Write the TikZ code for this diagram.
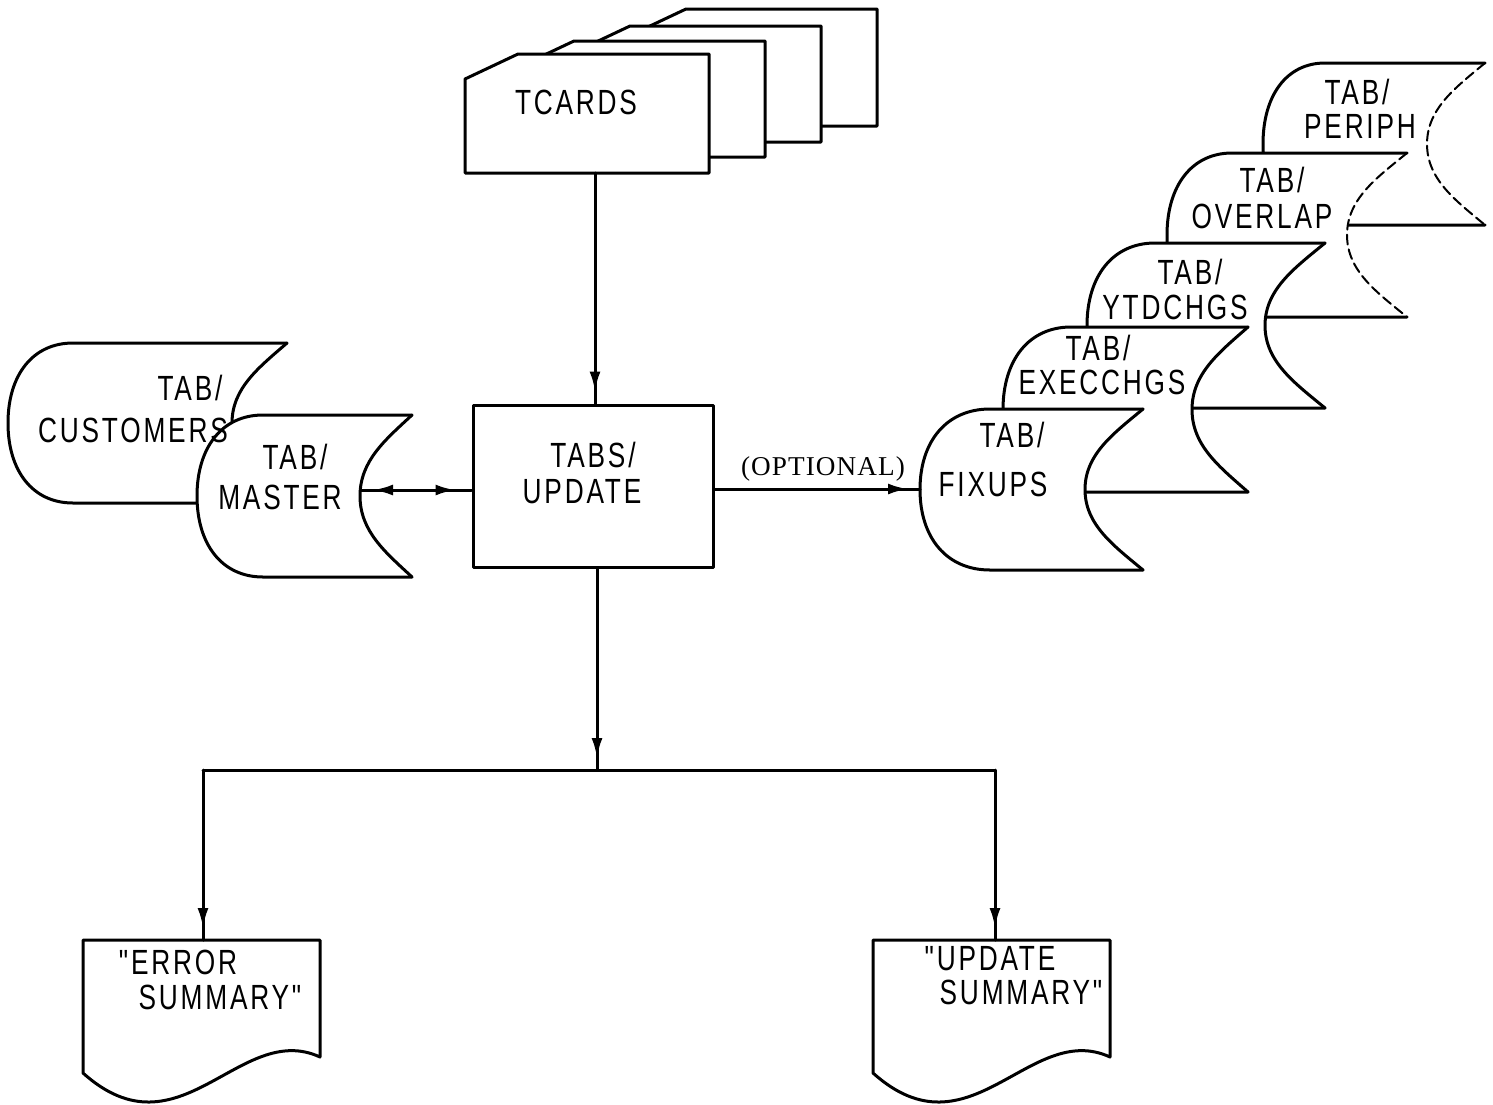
\documentclass[tikz,border=0pt]{standalone}
\usepackage{fontspec}
\usetikzlibrary{arrows.meta,decorations.markings}
\newfontfamily\lett[FakeStretch=0.75,LetterSpace=8]{Liberation Sans}
\newfontfamily\optfont[LetterSpace=4]{Liberation Serif}
\tikzset{
  ln/.style={line width=1.5pt, line join=round, line cap=round},
  lbl/.style={inner sep=0pt, font=\lett\fontsize{17.5}{20}\selectfont},
  optl/.style={inner sep=0pt, font=\optfont\fontsize{13.6}{16}\selectfont},
  procbox/.style={ln, draw, fill=white, minimum width=120pt, minimum height=81pt, inner sep=0pt},
  flow/.style={ln, postaction={decorate}, decoration={markings,
      mark=at position -6pt with {\arrow{Latex[length=10pt,width=5.5pt]}}}},
  dflow/.style={ln, postaction={decorate}, decoration={markings,
      mark=at position 6pt with {\arrowreversed{Latex[length=10pt,width=5.5pt]}},
      mark=at position -8pt with {\arrow{Latex[length=10pt,width=5.5pt]}}}},
  faint/.style={dash pattern=on 5pt off 2.5pt, line width=1pt},
}
% storage symbol: #1 left x, #2 top y, #3 width to corner, #4 height, #5 bulge radius, #6 concave depth, #7 concave style
\newcommand\drawstore[7]{%
\begin{scope}[shift={(#1,#2)}]
\fill[white] (#5,0) -- (#3,0) .. controls ({#3-0.5*#6},{0.15*#4}) and ({#3-#6},{0.28*#4}) .. ({#3-#6},{0.5*#4})
  .. controls ({#3-#6},{0.72*#4}) and ({#3-0.5*#6},{0.85*#4}) .. (#3,#4) -- (#5,#4)
  .. controls ({0.38*#5},#4) and (0,{0.8*#4}) .. (0,{0.5*#4})
  .. controls (0,{0.2*#4}) and ({0.38*#5},0) .. (#5,0) -- cycle;
\draw[ln] (#3,#4) -- (#5,#4) .. controls ({0.38*#5},#4) and (0,{0.8*#4}) .. (0,{0.5*#4})
  .. controls (0,{0.2*#4}) and ({0.38*#5},0) .. (#5,0) -- (#3,0);
\draw[ln,#7] (#3,0) .. controls ({#3-0.5*#6},{0.15*#4}) and ({#3-#6},{0.28*#4}) .. ({#3-#6},{0.5*#4})
  .. controls ({#3-#6},{0.72*#4}) and ({#3-0.5*#6},{0.85*#4}) .. (#3,#4);
\end{scope}}
% document symbol: #1 left x, #2 top y
\newcommand\drawdoc[2]{%
\begin{scope}[shift={(#1,#2)}]
\filldraw[ln,fill=white] (0,0) -- (237,0) -- (237,117) .. controls (157,80) and (97,220) .. (0,133) -- cycle;
\end{scope}}

\begin{document}
\begin{tikzpicture}[x=0.5pt,y=-0.5pt]
\fill[white] (0,0) rectangle (1493,1104);
\useasboundingbox (0,0) rectangle (1493,1104);

% ---- TCARDS deck ----
\filldraw[ln,fill=white] (633,34) -- (686,9) -- (877,9) -- (877,126) -- (633,126) -- cycle;
\filldraw[ln,fill=white] (577,51) -- (630,26) -- (821,26) -- (821,142) -- (577,142) -- cycle;
\filldraw[ln,fill=white] (521,66) -- (574,41) -- (765,41) -- (765,157) -- (521,157) -- cycle;
\filldraw[ln,fill=white] (465,79) -- (518,54) -- (709,54) -- (709,173) -- (465,173) -- cycle;
\node[lbl] (tcards) at (576,102) {TCARDS};

% ---- process box ----
\node[procbox] (update) at (593,486) {};
\node[lbl] (tu1) at (593,455) {TABS/};
\node[lbl] (tu2) at (582,492) {UPDATE};

% ---- left storage ----
\drawstore{8}{343}{279}{160}{65}{55}{solid}
\drawstore{197}{415}{215}{162}{66}{52}{solid}
\node[lbl] (cust1) at (190,388) {TAB/};
\node[lbl] (cust2) at (133,430) {CUSTOMERS};
\node[lbl] (mast1) at (295,457) {TAB/};
\node[lbl] (mast2) at (280,497) {MASTER};

% ---- right storage stack ----
\drawstore{1263}{63}{222}{162}{62}{58}{faint}
\node[lbl] (per1) at (1357,92) {TAB/};
\node[lbl] (per2) at (1360,126) {PERIPH};
\drawstore{1167}{153}{240}{164}{65}{60}{faint}
\node[lbl] (ovl1) at (1272,180) {TAB/};
\node[lbl] (ovl2) at (1262,216) {OVERLAP};
\drawstore{1087}{243}{238}{165}{68}{60}{solid}
\node[lbl] (ytd1) at (1190,272) {TAB/};
\node[lbl] (ytd2) at (1175,307) {YTDCHGS};
\drawstore{1003}{327}{245}{165}{68}{56}{solid}
\node[lbl] (exe1) at (1098,348) {TAB/};
\node[lbl] (exe2) at (1102,382) {EXECCHGS};
\drawstore{920}{409}{223}{161}{70}{58}{solid}
\node[lbl] (fix1) at (1012,435) {TAB/};
\node[lbl] (fix2) at (993,484) {FIXUPS};

% ---- reports ----
\drawdoc{83}{940}
\node[lbl] (err1) at (178,962) {"ERROR};
\node[lbl] (err2) at (220,997) {SUMMARY"};
\drawdoc{873}{940}
\node[lbl] (upd1) at (990,959) {"UPDATE};
\node[lbl] (upd2) at (1021,992) {SUMMARY"};

% ---- connectors ----
\coordinate (tcbot) at (595,173);
\draw[flow] (tcbot) -- (tcbot |- update.north);
\coordinate (masterR) at (361,490);
\draw[dflow] (masterR) -- (masterR -| update.west);
\coordinate (fixL) at (920,489);
\draw[flow] (update.east |- fixL) -- (fixL);
\node[optl] (opt) at (823,469) {(OPTIONAL)};
\coordinate (jm) at (597,770);
\coordinate (jl) at (203,770);
\coordinate (jr) at (995,770);
\coordinate (errtop) at (203,940);
\coordinate (updtop) at (995,940);
\draw[flow] (update.south -| jm) -- (jm);
\draw[ln] (jl) -- (jr);
\draw[flow] (jl) -- (errtop);
\draw[flow] (jr) -- (updtop);
\end{tikzpicture}
\end{document}
